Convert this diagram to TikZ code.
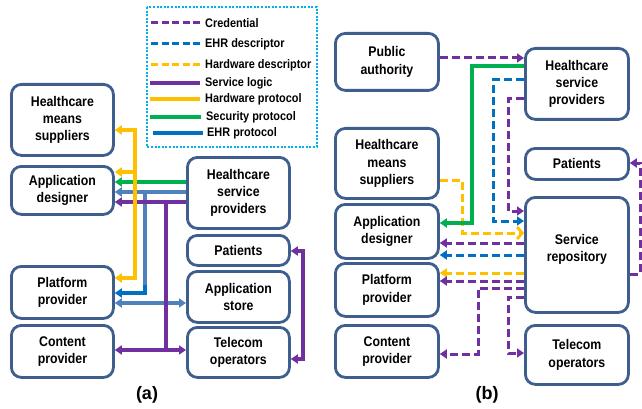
\documentclass[tikz,border=0pt]{standalone}
\usepackage{fontspec}
\setmainfont{Liberation Sans}
\newfontfamily\narrowfont[FakeStretch=0.88]{Liberation Sans}
\usetikzlibrary{arrows.meta}
\definecolor{bx}{RGB}{62,94,142}
\definecolor{pur}{RGB}{112,48,160}
\definecolor{ylw}{RGB}{255,192,0}
\definecolor{grn}{RGB}{0,176,80}
\definecolor{blu}{RGB}{0,112,192}
\definecolor{sbl}{RGB}{79,129,189}
\definecolor{cyn}{RGB}{0,176,240}
\tikzset{
  box/.style={draw=bx, line width=2.8pt, rounded corners=10pt, fill=white, align=center,
    font=\narrowfont\bfseries\fontsize{14}{17.3}\selectfont, inner sep=0pt, anchor=north west},
  sol/.style={line width=3.4pt},
  dsh/.style={line width=3pt, dash pattern=on 8pt off 4pt},
  tip/.style={-{Triangle[length=7pt,width=9pt]}},
  tiptwo/.style={{Triangle[length=7pt,width=9pt]}-{Triangle[length=7pt,width=9pt]}},
  chev/.style={-{Straight Barb[length=5pt,width=12pt,line width=2.8pt]}},
  legt/.style={anchor=west, inner sep=0pt, font=\narrowfont\bfseries\fontsize{12.4}{14}\selectfont},
  lbl/.style={font=\bfseries\fontsize{18}{20}\selectfont, inner sep=0pt},
  legbox/.style={draw=cyn, line width=2.8pt, dash pattern=on 2pt off 1.6pt},
  legdsh/.style={line width=3pt, dash pattern=on 7pt off 3.5pt}
}
\begin{document}
\begin{tikzpicture}[x=1pt,y=-1pt]
\useasboundingbox (0,0) rectangle (642,409);

% ---------- legend ----------
\draw[legbox] (147,7) rectangle (317,147);
\node[legt] (l1) at (205,23) {Credential};
\node[legt] (l2) at (205,44) {EHR descriptor};
\node[legt] (l3) at (205,65) {Hardware descriptor};
\node[legt] (l4) at (205,83) {Service logic};
\node[legt] (l5) at (205,99) {Hardware protocol};
\node[legt] (l6) at (206,117) {Security protocol};
\node[legt] (l7) at (207,133) {EHR protocol};
\draw[pur,legdsh] (l1.west) ++(-5,0) -- ++(-50,0);
\draw[blu,legdsh] (l2.west) ++(-5,0) -- ++(-50,0);
\draw[ylw,legdsh] (l3.west) ++(-5,0) -- ++(-50,0);
\draw[pur,sol] (l4.west) ++(-5,0) -- ++(-50,0);
\draw[ylw,sol] (l5.west) ++(-5,0) -- ++(-50,0);
\draw[grn,sol] (l6.west) ++(-5,0) -- ++(-51,0);
\draw[blu,sol] (l7.west) ++(-4,0) -- ++(-50,0);

% ---------- part (a) boxes ----------
\node[box, minimum width=102pt, minimum height=71pt] (ahms) at (10,83) {Healthcare\\means\\suppliers};
\node[box, minimum width=102pt, minimum height=48pt] (aad) at (10,165) {Application\\designer};
\node[box, minimum width=102pt, minimum height=52pt] (app) at (10,265) {Platform\\provider};
\node[box, minimum width=102pt, minimum height=52pt] (acp) at (10,324) {Content\\provider};
\node[box, minimum width=102pt, minimum height=71pt] (ahsp) at (186,156) {Healthcare\\service\\providers};
\node[box, minimum width=102pt, minimum height=30pt] (apat) at (186,234) {Patients};
\node[box, minimum width=102pt, minimum height=51pt] (aas) at (186,270) {Application\\store};
\node[box, minimum width=102pt, minimum height=50pt] (ato) at (186,326) {Telecom\\operators};
\node[lbl] (la) at (147,395) {(a)};

% ---------- part (a) connectors ----------
\draw[grn,sol,tip] (ahsp.west |- 0,182) -- (aad.east |- 0,182);
\draw[sbl,sol,tip] (ahsp.west |- 0,192) -- (aad.east |- 0,192);
\draw[sbl,sol] (145,192) -- (145,287);
\draw[blu,sol,tip] (145,285) |- (app.east |- 0,293);
\draw[sbl,sol,tiptwo] (app.east |- 0,303) -- (aas.west |- 0,303);
\draw[pur,sol,tip] (ahsp.west |- 0,202) -- (aad.east |- 0,202);
\draw[pur,sol] (166,202) -- (166,350);
\draw[pur,sol,tiptwo] (acp.east |- 0,350) -- (ato.west |- 0,350);
\draw[ylw,sol,tiptwo] (ahms.east |- 0,130) -- (135,130) -- (135,278) -- (app.east |- 0,278);
\draw[ylw,sol,tip] (135,172) -- (aad.east |- 0,172);
\draw[pur,sol,tiptwo] (apat.east |- 0,251) -- (303,251) -- (303,359) -- (ato.east |- 0,359);

% ---------- part (b) boxes ----------
\node[box, minimum width=103pt, minimum height=57pt] (bpa) at (334,32) {Public\\authority};
\node[box, minimum width=103pt, minimum height=71pt] (bhsp) at (524,47) {Healthcare\\service\\providers};
\node[box, minimum width=103pt, minimum height=70pt] (bhms) at (334,127) {Healthcare\\means\\suppliers};
\node[box, minimum width=103pt, minimum height=31pt] (bpat) at (524,147) {Patients};
\node[box, minimum width=103pt, minimum height=54pt] (bad) at (334,203) {Application\\designer};
\node[box, minimum width=103pt, minimum height=115pt] (bsr) at (524,196) {Service\\repository\\[-4pt]};
\node[box, minimum width=103pt, minimum height=53pt] (bpp) at (334,262) {Platform\\provider};
\node[box, minimum width=103pt, minimum height=52pt] (bcp) at (334,324) {Content\\provider};
\node[box, minimum width=103pt, minimum height=59pt] (bto) at (524,324) {Telecom\\operators};
\node[lbl] (lb) at (487,395) {(b)};

% ---------- part (b) connectors ----------
\draw[pur,dsh,tip] (bpa.east |- 0,58) -- (bhsp.west |- 0,58);
\draw[blu,dsh,tip] (bhsp.west |- 0,80) -- (493,80) -- (493,221) -- (bsr.west |- 0,221);
\draw[pur,dsh,tip] (bhsp.west |- 0,99) -- (508,99) -- (508,211) -- (bsr.west |- 0,211);
\draw[ylw,dsh,chev] (bhms.east |- 0,180) -- (462,180) -- (462,233) -- (bsr.west |- 0,233);
\draw[grn,sol,tip] (bhsp.west |- 0,66) -- (472,66) -- (472,223) -- (bad.east |- 0,223);
\draw[pur,dsh,tip] (bsr.west |- 0,243) -- (bad.east |- 0,243);
\draw[blu,dsh,tip] (bsr.west |- 0,255) -- (bad.east |- 0,255);
\draw[ylw,dsh,tip] (bsr.west |- 0,273) -- (bpp.east |- 0,273);
\draw[pur,dsh,tip] (bsr.west |- 0,281) -- (bpp.east |- 0,281);
\draw[pur,dsh,tip] (bsr.west |- 0,288) -- (478,288) -- (478,354) -- (bcp.east |- 0,354);
\draw[pur,dsh,tip] (bsr.west |- 0,297) -- (508,297) -- (508,353) -- (bto.west |- 0,353);
\draw[pur,dsh,tip] (bsr.east |- 0,274) -- (640,274) -- (640,163) -- (bpat.east |- 0,163);
\end{tikzpicture}
\end{document}
